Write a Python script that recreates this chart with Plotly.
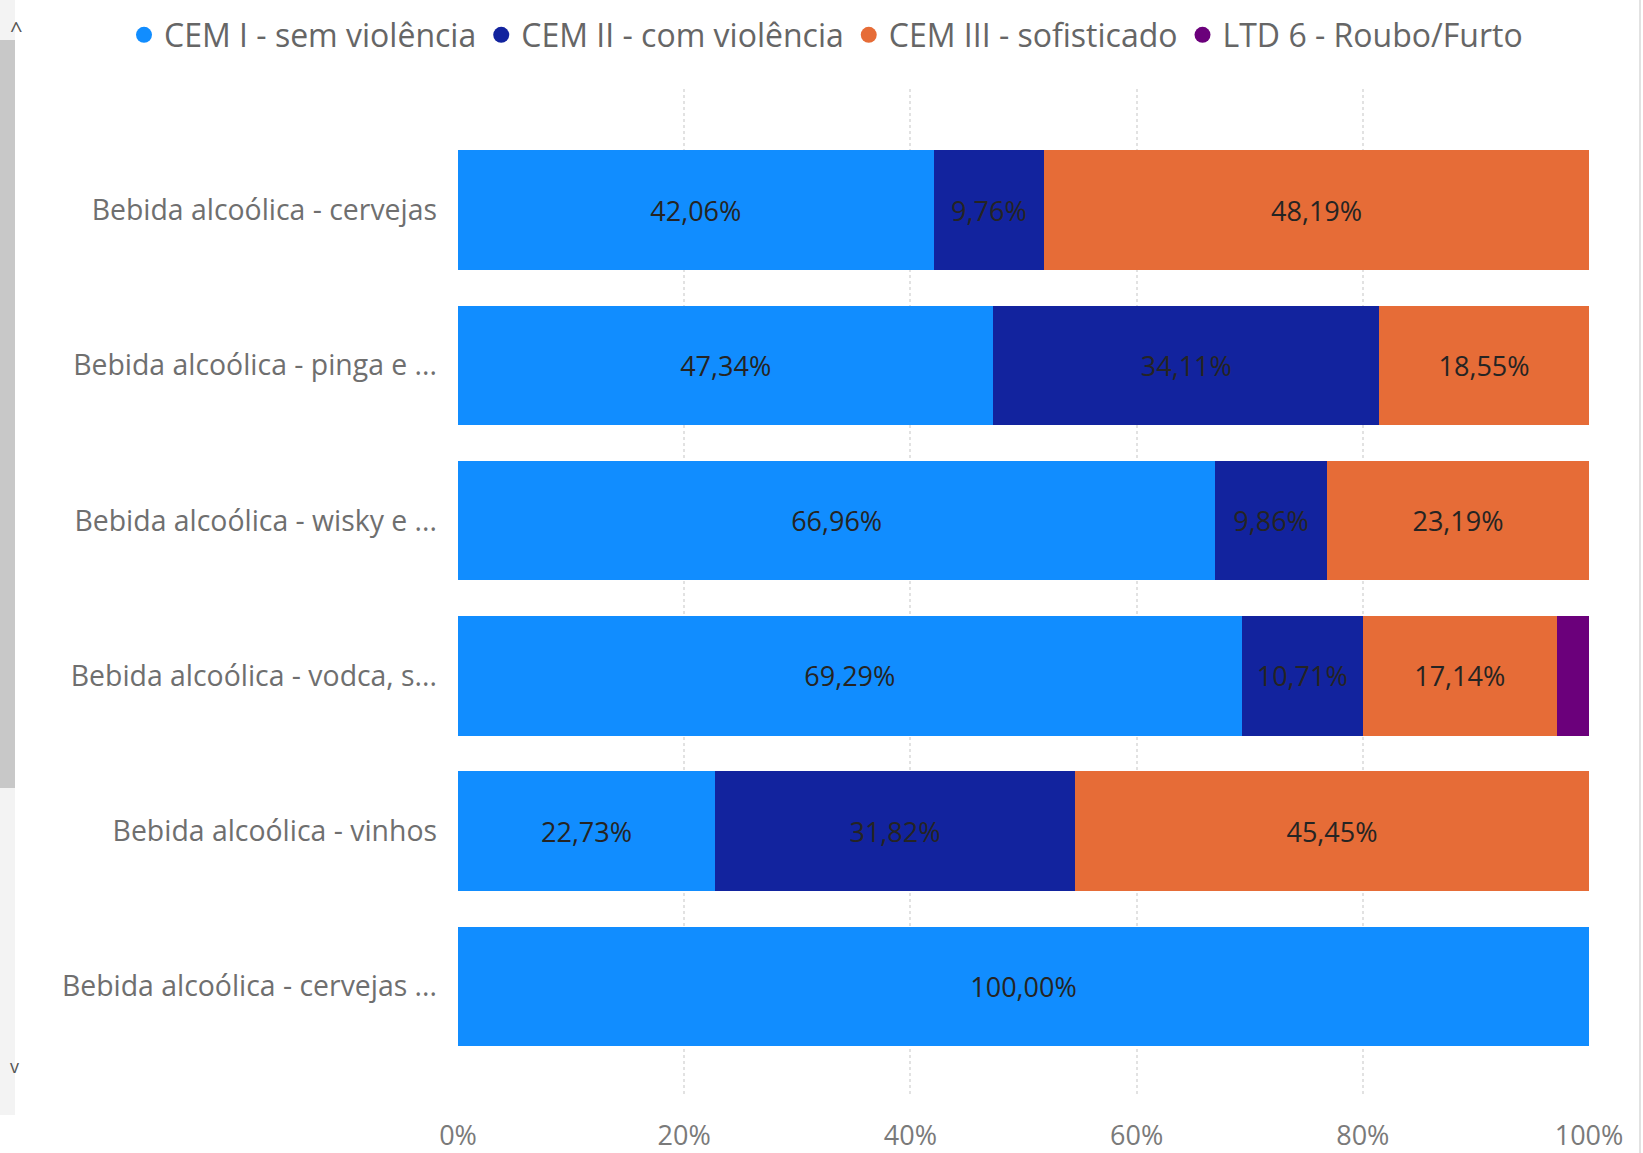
import plotly.graph_objects as go

categories = [
    "Bebida alcoólica - cervejas",
    "Bebida alcoólica - pinga e ...",
    "Bebida alcoólica - wisky e ...",
    "Bebida alcoólica - vodca, s...",
    "Bebida alcoólica - vinhos",
    "Bebida alcoólica - cervejas ...",
]
cem1 = [42.06, 47.34, 66.96, 69.29, 22.73, 100.00]
cem2 = [9.76, 34.11, 9.86, 10.71, 31.82, 0]
cem3 = [48.19, 18.55, 23.19, 17.14, 45.45, 0]
ltd6 = [0, 0, 0, 2.86, 0, 0]

series_names = ["CEM I - sem violência", "CEM II - com violência",
                "CEM III - sofisticado", "LTD 6 - Roubo/Furto"]
series_values = [cem1, cem2, cem3, ltd6]
colors = ["#118DFF", "#12239E", "#E66C37", "#6B007B"]
x_tickvals = [0, 20, 40, 60, 80, 100]
x_ticktext = ["0%", "20%", "40%", "60%", "80%", "100%"]

FONT = "Open Sans"
W, H = 1643, 1153
L, R, T, B = 458, 54, 89, 58
PW, PH = W - L - R, H - T - B

fig = go.Figure()
for name, vals, col in zip(series_names, series_values, colors):
    fig.add_trace(go.Bar(
        y=categories, x=vals, name=name, orientation="h",
        marker=dict(color=col, line=dict(width=0)),
        texttemplate="%{x:.2f}%",
        textposition="inside", insidetextanchor="middle", textangle=0,
        textfont=dict(family=FONT, size=27, color="#252423"),
        showlegend=False,
    ))
# legend entries with round markers
for name, col in zip(series_names, colors):
    fig.add_trace(go.Scatter(
        x=[None], y=[None], mode="markers", name=name,
        marker=dict(color=col, size=16, symbol="circle"),
        showlegend=True,
    ))

fig.update_layout(
    width=W, height=H,
    barmode="stack", bargap=0.23,
    separators=",.",
    paper_bgcolor="white", plot_bgcolor="white",
    margin=dict(l=L, r=R, t=T, b=B, autoexpand=False),
    font=dict(family=FONT, color="#777777"),
    uniformtext=dict(minsize=26, mode="hide"),
    showlegend=True,
    legend=dict(
        orientation="h", xref="paper", yref="paper",
        x=(124 - L) / PW, xanchor="left",
        y=1 + (T - 35) / PH, yanchor="middle",
        font=dict(family=FONT, size=32, color="#666666"),
        itemsizing="trace", itemwidth=30, tracegroupgap=0,
        traceorder="normal", bgcolor="rgba(0,0,0,0)",
    ),
    xaxis=dict(
        range=[0, 100], tickvals=x_tickvals, ticktext=x_ticktext,
        showgrid=True, gridcolor="#e2e2e2", griddash="dot", gridwidth=1.5,
        zeroline=False, showline=False, ticks="",
        tickfont=dict(family=FONT, size=27, color="#7a7a7a"),
        ticklabelstandoff=22,
    ),
    yaxis=dict(
        categoryorder="array", categoryarray=categories,
        range=[5.70, -0.78],
        showgrid=False, zeroline=False, showline=False, ticks="",
        tickfont=dict(family=FONT, size=28.4, color="#6f6f6f"),
        ticklabelstandoff=20,
    ),
)


def px(xp):
    return (xp - L) / PW


def py(yp):
    return (H - B - yp) / PH


# scrollbar decoration on the left
fig.add_shape(type="rect", xref="paper", yref="paper",
              x0=px(0), x1=px(15), y0=py(1115), y1=py(0),
              fillcolor="#f3f3f3", line=dict(width=0), layer="below")
fig.add_shape(type="rect", xref="paper", yref="paper",
              x0=px(0), x1=px(15), y0=py(788), y1=py(40),
              fillcolor="#c8c8c8", line=dict(width=0))
fig.add_annotation(xref="paper", yref="paper", x=px(8), y=py(12),
                   text="^", showarrow=False, font=dict(size=22, color="#555"))
fig.add_annotation(xref="paper", yref="paper", x=px(8), y=py(1080),
                   text="v", showarrow=False, font=dict(size=18, color="#555"))
# thin frame line on the right edge
fig.add_shape(type="line", xref="paper", yref="paper",
              x0=px(1640), x1=px(1640), y0=py(1153), y1=py(0),
              line=dict(color="#d8d8d8", width=1.5))

fig.write_html("out.html", config={"displayModeBar": False},
               post_script="document.body.style.margin='0';")
